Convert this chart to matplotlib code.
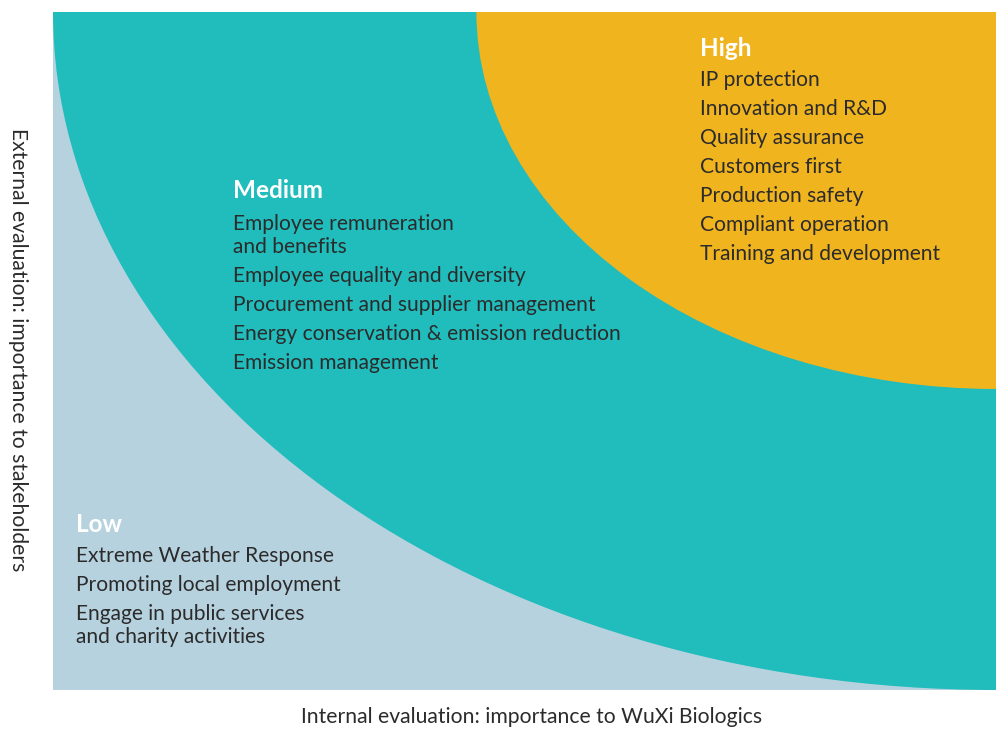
import matplotlib
matplotlib.use("Agg")
from matplotlib import pyplot as plt
from matplotlib.patches import Ellipse

# levels and topics
levels = ['High', 'Medium', 'Low']
high_items = ['IP protection', 'Innovation and R&D', 'Quality assurance',
              'Customers first', 'Production safety', 'Compliant operation',
              'Training and development']
medium_items = ['Employee remuneration\nand benefits',
                'Employee equality and diversity',
                'Procurement and supplier management',
                'Energy conservation & emission reduction',
                'Emission management']
low_items = ['Extreme Weather Response', 'Promoting local employment',
             'Engage in public services\nand charity activities']

# zone radii (share of axes, measured from top-right corner)
medium_rx, medium_ry = 1.0, 1.0
high_rx, high_ry = 0.551, 0.556

x_label = 'Internal evaluation: importance to WuXi Biologics'
y_label = 'External evaluation: importance to stakeholders'

c_low = '#b7d2df'
c_mid = '#21bcbc'
c_high = '#f0b41f'
c_text = '#2b2b2b'

plt.rcParams['font.family'] = ['Lato', 'DejaVu Sans']

W, H = 996, 729
fig = plt.figure(figsize=(W / 100, H / 100), dpi=100)
L, T, R, B = 53, 12, 996, 690
ax = fig.add_axes([L / W, 1 - B / H, (R - L) / W, (B - T) / H])
ax.set_xlim(0, 1)
ax.set_ylim(0, 1)
ax.set_facecolor(c_low)
for s in ax.spines.values():
    s.set_visible(False)
ax.set_xticks([])
ax.set_yticks([])

ax.add_patch(Ellipse((1, 1), 2 * medium_rx, 2 * medium_ry, color=c_mid, lw=0))
ax.add_patch(Ellipse((1, 1), 2 * high_rx, 2 * high_ry, color=c_high, lw=0))


def px(x, y):
    return (x - L) / (R - L), (B - y) / (B - T)


def block(x, y_head, y_first, title, items):
    ax.text(*px(x, y_head), title, transform=ax.transAxes, color='white',
            fontsize=17.5, fontweight='bold', va='center', ha='left')
    y = y_first
    for item in items:
        lines = item.split('\n')
        for j, line in enumerate(lines):
            ax.text(*px(x, y + j * 23), line, transform=ax.transAxes,
                    color=c_text, fontsize=15.1, va='center', ha='left')
        y += 29 + (len(lines) - 1) * 23


block(700, 48, 80, levels[0], high_items)
block(233, 191, 224, levels[1], medium_items)
block(76, 524, 556, levels[2], low_items)

fig.text(532 / W, 1 - 717 / H, x_label, ha='center', va='center',
         fontsize=15.2, color=c_text)
fig.text(18 / W, 1 - 350 / H, y_label, ha='center', va='center',
         rotation=-90, fontsize=15.2, color=c_text)

fig.savefig('out.png', dpi=100)
